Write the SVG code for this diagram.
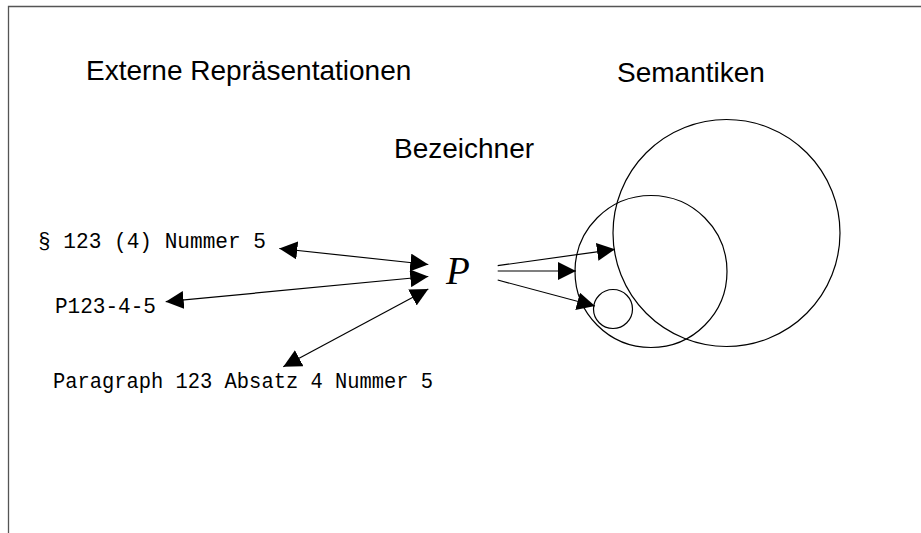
<svg xmlns="http://www.w3.org/2000/svg" width="921" height="533" viewBox="0 0 921 533">
<style>
.frame{fill:none;stroke:#555;stroke-width:1.3}
.sans{font-family:"Liberation Sans","DejaVu Sans",sans-serif;font-size:28px;fill:#000}
.mono{font-family:"Liberation Mono","DejaVu Sans Mono",monospace;font-size:22px;fill:#000}
.math{font-family:"Liberation Serif","DejaVu Serif",serif;font-style:italic;font-size:39px;fill:#000}
.conn{fill:none;stroke:#000;stroke-width:1.2}
.set{fill:none;stroke:#000;stroke-width:1.2}
</style>
<defs>
<marker id="ah" markerUnits="userSpaceOnUse" markerWidth="18" markerHeight="18" refX="17" refY="8.5" orient="auto-start-reverse" viewBox="0 0 17 17">
<path d="M0,0 L17,8.5 L0,17 z" fill="#000"/>
</marker>
</defs>
<rect width="921" height="533" fill="#fff"/>
<path class="frame" d="M8.5,533 L8.5,6.5 L921,6.5"/>
<g id="title-externe"><text class="sans" x="86" y="80">Externe Repräsentationen</text></g>
<g id="title-semantiken"><text class="sans" x="617" y="82">Semantiken</text></g>
<g id="title-bezeichner"><text class="sans" x="394" y="158">Bezeichner</text></g>
<g id="rep1"><text class="mono" x="38" y="248" textLength="228" lengthAdjust="spacingAndGlyphs">§ 123 (4) Nummer 5</text></g>
<g id="rep2"><text class="mono" x="55" y="313" textLength="101" lengthAdjust="spacingAndGlyphs">P123-4-5</text></g>
<g id="rep3"><text class="mono" x="53" y="388" textLength="380" lengthAdjust="spacingAndGlyphs">Paragraph 123 Absatz 4 Nummer 5</text></g>
<g id="P"><text class="math" x="446" y="284">P</text></g>
<g id="sem-big"><circle class="set" cx="726.5" cy="233" r="113.5"/></g>
<g id="sem-mid"><circle class="set" cx="651" cy="271.5" r="76"/></g>
<g id="sem-small"><circle class="set" cx="613" cy="309" r="19.5"/></g>
<g id="connectors">
<line class="conn" x1="279.3" y1="248.5" x2="428.3" y2="264.5" marker-start="url(#ah)" marker-end="url(#ah)"/>
<line class="conn" x1="165.7" y1="301.7" x2="428.3" y2="276.5" marker-start="url(#ah)" marker-end="url(#ah)"/>
<line class="conn" x1="283.3" y1="366.7" x2="428.3" y2="289" marker-start="url(#ah)" marker-end="url(#ah)"/>
<line class="conn" x1="497.7" y1="265.7" x2="615" y2="249.3" marker-end="url(#ah)"/>
<line class="conn" x1="497.7" y1="271" x2="576" y2="271" marker-end="url(#ah)"/>
<line class="conn" x1="497.7" y1="280" x2="595" y2="306" marker-end="url(#ah)"/>
</g>
</svg>
